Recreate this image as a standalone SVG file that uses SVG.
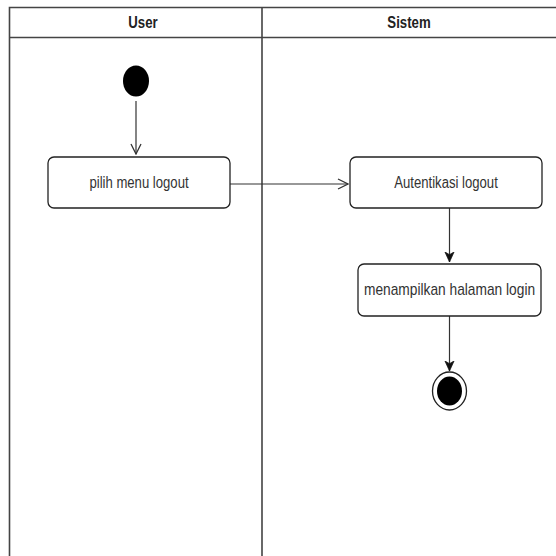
<svg xmlns="http://www.w3.org/2000/svg" width="556" height="556" viewBox="0 0 556 556">
  <style>
    .lane { fill: none; stroke: #444; stroke-width: 1.6; }
    .act { fill: #fff; stroke: #222; stroke-width: 1.3; }
    .lbl { font-family: "Liberation Sans", Arial, sans-serif; font-size: 16px; fill: #333; text-anchor: middle; }
    .hdr { font-family: "Liberation Sans", Arial, sans-serif; font-size: 16.5px; font-weight: bold; fill: #222; text-anchor: middle; }
    .flow { fill: none; stroke: #333; stroke-width: 1.2; }
  </style>
  <defs>
    <marker id="open" viewBox="0 0 12 12" refX="11" refY="6" markerWidth="12" markerHeight="12" markerUnits="userSpaceOnUse" orient="auto">
      <path d="M1,1 L11,6 L1,11" fill="none" stroke="#333" stroke-width="1.3"/>
    </marker>
    <marker id="block" viewBox="0 0 12 12" refX="11" refY="6" markerWidth="11" markerHeight="11" markerUnits="userSpaceOnUse" orient="auto">
      <path d="M0,1 L11,6 L0,11 L3,6 Z" fill="#111" stroke="#111" stroke-width="0.8"/>
    </marker>
  </defs>
  <rect width="556" height="556" fill="#fff"/>

  <!-- swimlanes -->
  <g id="lanes">
    <path class="lane" d="M9.5,556 V7.5 H556 M9.5,37.5 H556 M262,7.5 V556"/>
    <text class="hdr" transform="translate(143,28) scale(0.8,1)">User</text>
    <text class="hdr" transform="translate(409,28) scale(0.8,1)">Sistem</text>
  </g>

  <!-- connectors -->
  <g id="connectors">
    <path class="flow" d="M136,101 V154" marker-end="url(#open)"/>
    <path class="flow" d="M230,184 H348" marker-end="url(#open)"/>
    <path class="flow" d="M449.5,208 V262" marker-end="url(#block)"/>
    <path class="flow" d="M449.5,316 V371" marker-end="url(#block)"/>
  </g>

  <g id="start">
    <ellipse cx="136" cy="81" rx="13" ry="15.5" fill="#000"/>
  </g>

  <g id="pilih-menu-logout">
    <rect class="act" x="48" y="157" width="182" height="51" rx="6"/>
    <text class="lbl" transform="translate(139,187.5) scale(0.82,1)">pilih menu logout</text>
  </g>

  <g id="autentikasi-logout">
    <rect class="act" x="350" y="157" width="192" height="51" rx="6"/>
    <text class="lbl" transform="translate(446,187.5) scale(0.82,1)">Autentikasi logout</text>
  </g>

  <g id="menampilkan-halaman-login">
    <rect class="act" x="358" y="264" width="183" height="52" rx="6"/>
    <text class="lbl" transform="translate(449.5,295) scale(0.86,1)">menampilkan halaman login</text>
  </g>

  <g id="end">
    <ellipse cx="449.5" cy="391" rx="17" ry="19" fill="#fff" stroke="#222" stroke-width="1.3"/>
    <ellipse cx="449.5" cy="391" rx="12.5" ry="14.5" fill="#000"/>
  </g>
</svg>
